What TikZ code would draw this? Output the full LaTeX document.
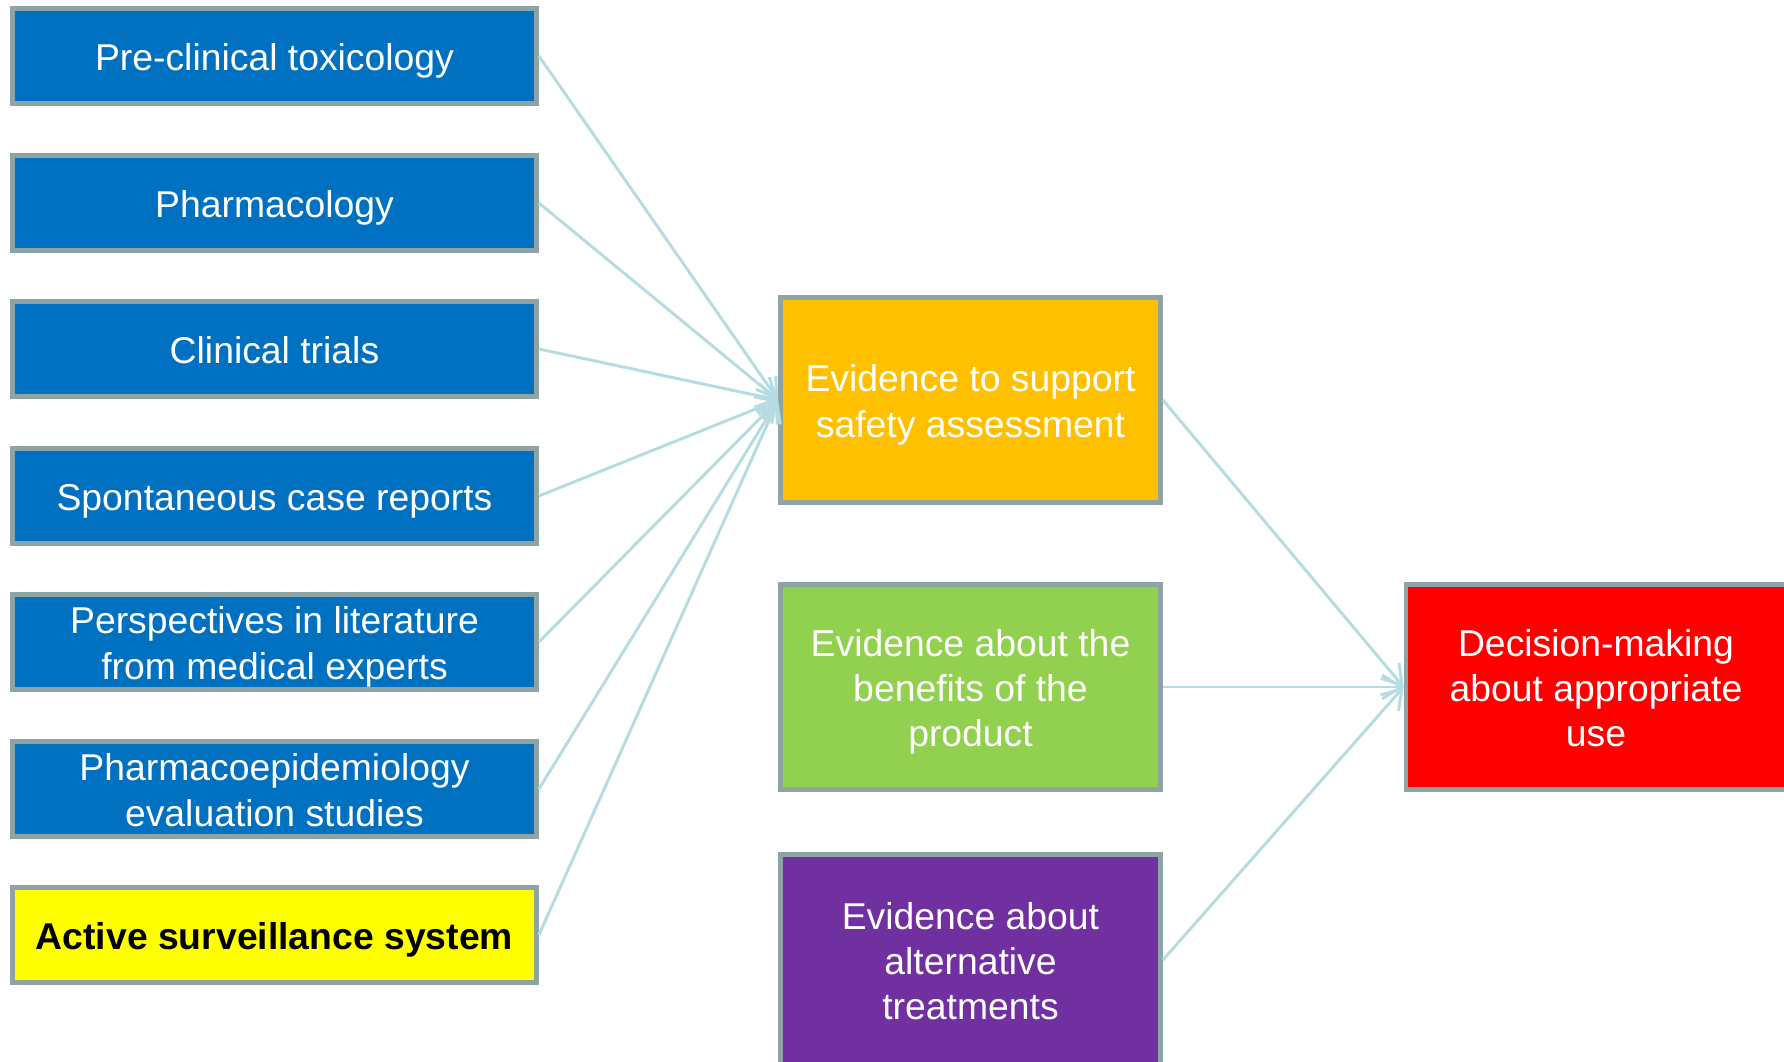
\documentclass[tikz,border=0pt]{standalone}
\usepackage{fontspec}
\setmainfont{Liberation Sans}
\usetikzlibrary{arrows.meta}
\definecolor{bxblue}{HTML}{0070C0}
\definecolor{bxyellow}{HTML}{FFFF00}
\definecolor{bxorange}{HTML}{FFC000}
\definecolor{bxgreen}{HTML}{92D050}
\definecolor{bxpurple}{HTML}{7030A0}
\definecolor{bxred}{HTML}{FF0000}
\definecolor{bxborder}{HTML}{8EA3A6}
\definecolor{arrowcol}{HTML}{B5DCE0}
\newcommand\bxtext[1]{\raisebox{-4pt}[\height][\depth]{\begin{tabular}{@{}c@{}}#1\end{tabular}}}
\begin{document}
\begin{tikzpicture}[x=0.75pt,y=-0.75pt,
  box/.style={draw=bxborder, line width=3.6pt, rectangle, text=white,
    font=\fontsize{28}{34}\selectfont, inner sep=0pt},
  leftbox/.style={box, minimum width=524*0.75pt, minimum height=95*0.75pt, fill=bxblue},
  midbox/.style={box, minimum width=380*0.75pt, minimum height=205*0.75pt},
  conn/.style={draw=arrowcol, line width=2.2pt, -{Straight Barb[length=14pt,width=18pt,line width=2.2pt]}}
]
\clip (0,0) rectangle (1784,1062);
\fill[white] (0,0) rectangle (1784,1062);

\node[leftbox] (a1) at (274.5,56) {\bxtext{Pre-clinical toxicology}};
\node[leftbox] (a2) at (274.5,203) {\bxtext{Pharmacology}};
\node[leftbox] (a3) at (274.5,349) {\bxtext{Clinical trials}};
\node[leftbox] (a4) at (274.5,496) {\bxtext{Spontaneous case reports}};
\node[leftbox] (a5) at (274.5,642) {\bxtext{Perspectives in literature\\from medical experts}};
\node[leftbox] (a6) at (274.5,789) {\bxtext{Pharmacoepidemiology\\evaluation studies}};
\node[leftbox, fill=bxyellow, text=black, font=\fontsize{28}{34}\selectfont\bfseries] (a7) at (274.5,935) {\bxtext{Active surveillance system}};

\node[midbox, fill=bxorange] (ev) at (970.5,400) {\bxtext{Evidence to support\\safety assessment}};
\node[midbox, fill=bxgreen] (bn) at (970.5,687) {\bxtext{Evidence about the\\benefits of the\\product}};
\node[midbox, fill=bxpurple, minimum height=211*0.75pt] (alt) at (970.5,960) {\bxtext{Evidence about\\alternative\\treatments}};
\node[midbox, fill=bxred] (dm) at (1596,687) {\bxtext{Decision-making\\about appropriate\\use}};

\foreach \n in {a1,a2,a3,a4,a5,a6,a7}{
  \draw[conn] (\n.east) -- (ev.west);
}
\draw[conn] (ev.east) -- (dm.west);
\draw[conn] (bn.east) -- (dm.west);
\draw[conn] (alt.east) -- (dm.west);
\end{tikzpicture}
\end{document}
